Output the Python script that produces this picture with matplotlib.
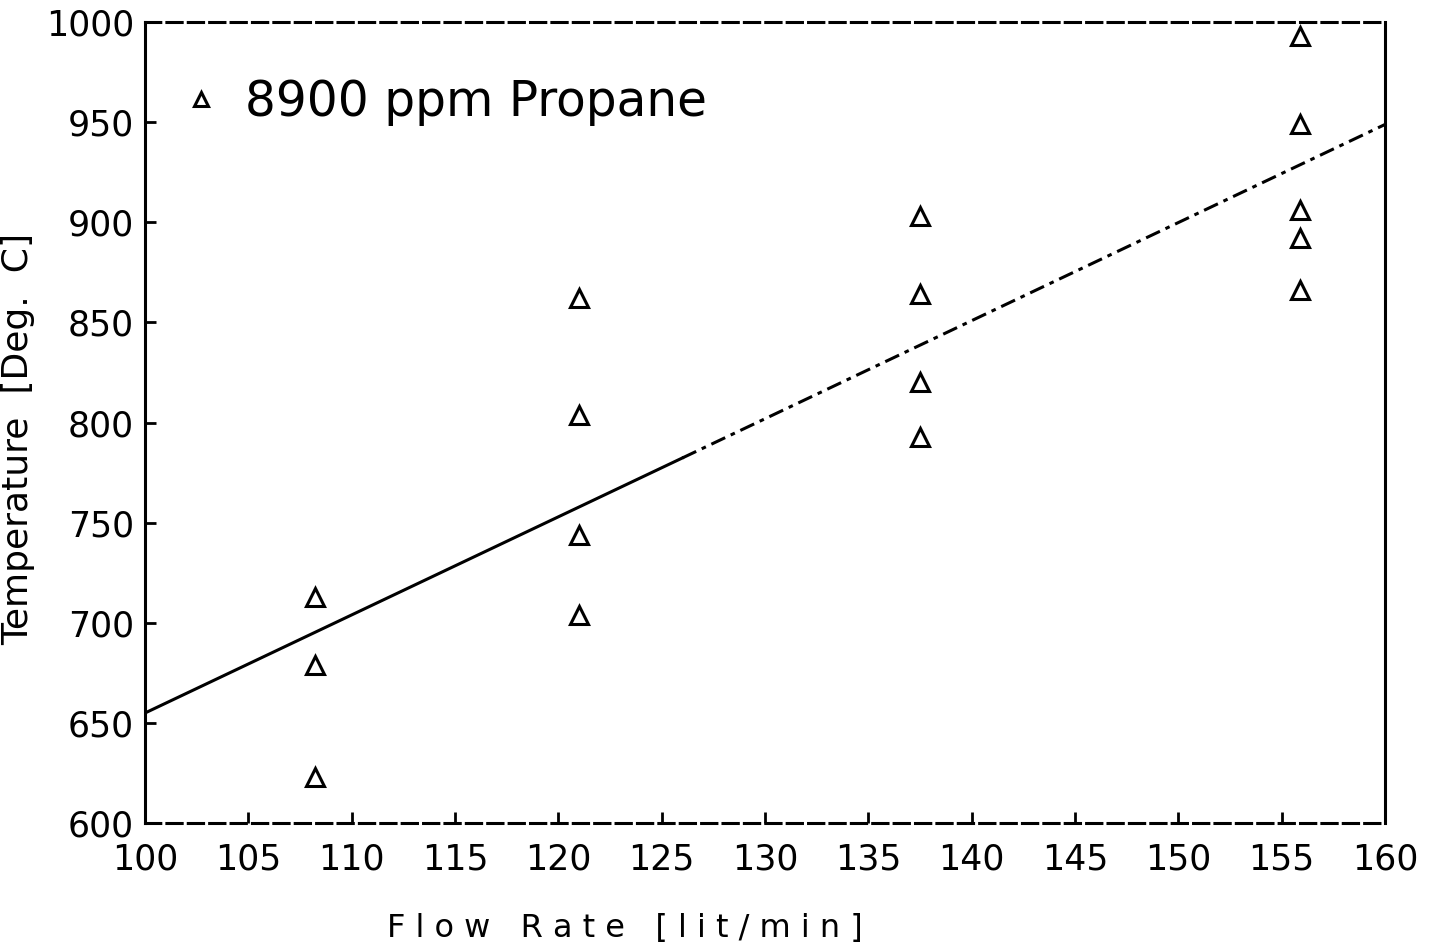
import numpy as np
import matplotlib.pyplot as plt

# measured points, 8900 ppm propane
flow = [108.2, 108.2, 108.2,
        121.0, 121.0, 121.0, 121.0,
        137.5, 137.5, 137.5, 137.5,
        155.9, 155.9, 155.9, 155.9, 155.9]
temp = [713, 679, 623,
        862, 804, 744, 704,
        903, 864, 820, 793,
        993, 949, 906, 892, 866]

x_ticks = [100, 105, 110, 115, 120, 125, 130, 135, 140, 145, 150, 155, 160]
y_ticks = [600, 650, 700, 750, 800, 850, 900, 950, 1000]

# linear fit through the data
slope, icpt = np.polyfit(flow, temp, 1)

fig = plt.figure(figsize=(14.32, 9.46), dpi=100)
ax = fig.add_axes([0.1013, 0.130, 0.8659, 0.8467])

xa = np.array([100, 126])
xb = np.array([126, 160])
ax.plot(xa, slope * xa + icpt, color='black', lw=2.2, ls='-')
ax.plot(xb, slope * xb + icpt, color='black', lw=2.2, ls=(0, (5, 2, 1.5, 2)))

ax.plot(flow, temp, ls='none', marker='^', markersize=13, markerfacecolor='none',
        markeredgecolor='black', markeredgewidth=2.2, label='8900 ppm Propane')

ax.set_xlim(100, 160)
ax.set_ylim(600, 1000)
ax.set_xticks(x_ticks)
ax.set_yticks(y_ticks)
ax.tick_params(direction='in', length=8, width=2, labelsize=25, pad=8)
ax.tick_params(axis='x', pad=14)

for s in ['left', 'right']:
    ax.spines[s].set_linewidth(2.2)
for s in ['top', 'bottom']:
    ax.spines[s].set_linewidth(2.2)
    ax.spines[s].set_linestyle((0, (5, 2)))

ax.set_xlabel('F l o w   R a t e   [ l i t / m i n ]', fontsize=23)
ax.xaxis.set_label_coords(0.387, -0.112)
ax.set_ylabel('Temperature  [Deg.  C]', fontsize=26)
ax.yaxis.set_label_coords(-0.089, 0.48)

leg = ax.legend(loc='upper left', bbox_to_anchor=(0.01, 0.955), frameon=False,
                fontsize=35, handletextpad=0.4, handlelength=1.0,
                markerscale=0.75, borderaxespad=0.0)

fig.savefig('out.png', dpi=100)
